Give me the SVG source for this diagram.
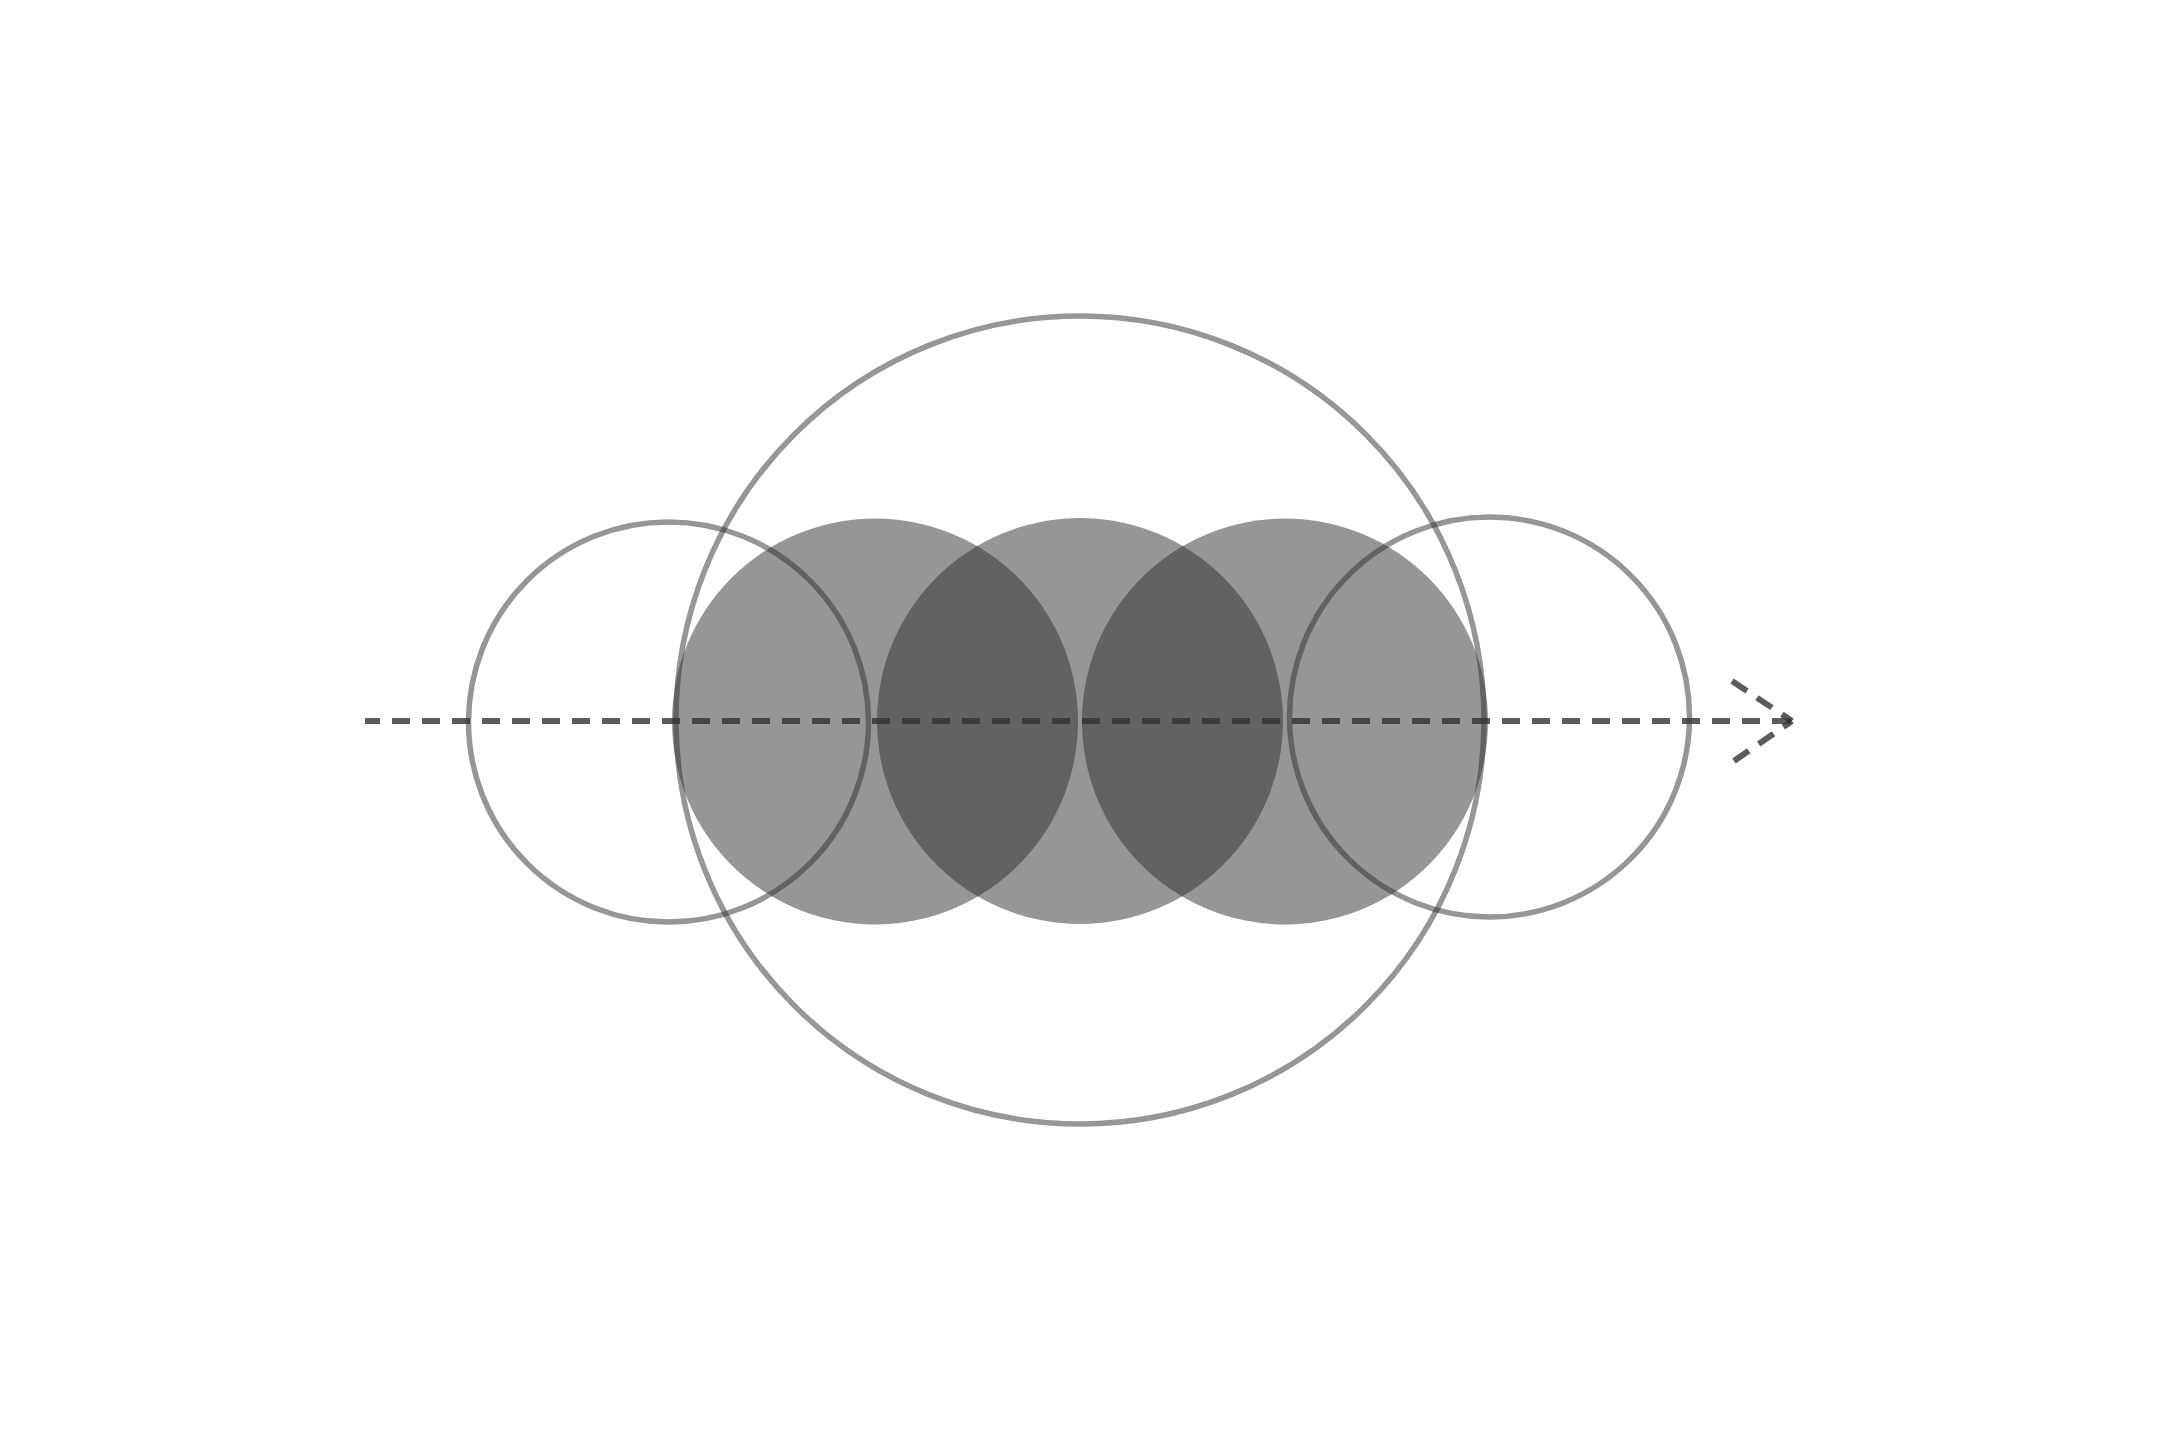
<svg xmlns="http://www.w3.org/2000/svg" width="2160" height="1440" viewBox="0 0 2160 1440">
  <style>
    .ring { fill: none; stroke: #2e2e2c; stroke-opacity: 0.5; stroke-width: 5.5; }
    .disc { fill: #2e2e2a; fill-opacity: 0.5; stroke: none; }
    .axis { fill: none; stroke: #333330; stroke-opacity: 0.8; stroke-width: 6; stroke-dasharray: 18 12; }
  </style>
  <rect width="2160" height="1440" fill="#ffffff"/>
  <g id="big-circle">
    <circle class="ring" cx="1080" cy="720" r="404"/>
  </g>
  <g id="left-circle">
    <circle class="ring" cx="668.5" cy="722" r="200"/>
  </g>
  <g id="right-circle">
    <circle class="ring" cx="1489.5" cy="717" r="200"/>
  </g>
  <g id="disc-1">
    <circle class="disc" cx="875" cy="721.5" r="203"/>
  </g>
  <g id="disc-2">
    <circle class="disc" cx="1080" cy="721" r="203"/>
  </g>
  <g id="disc-3">
    <circle class="disc" cx="1285" cy="721.5" r="203"/>
  </g>
  <g id="connectors">
    <line class="axis" x1="365" y1="721" x2="1792" y2="721" stroke-dashoffset="3"/>
    <line class="axis" x1="1732" y1="681" x2="1792" y2="721"/>
    <line class="axis" x1="1734" y1="761" x2="1792" y2="721"/>
  </g>
</svg>
